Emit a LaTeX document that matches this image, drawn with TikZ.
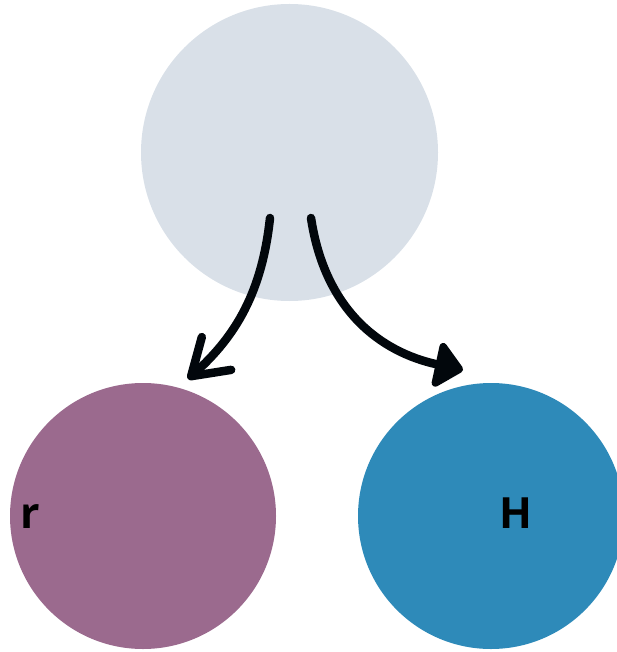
\documentclass[tikz,border=0pt]{standalone}
\usepackage{fontspec}
\setmainfont{Open Sans}
\usetikzlibrary{arrows.meta}
\definecolor{topc}{HTML}{D9E0E8}
\definecolor{leftc}{HTML}{9B6A8E}
\definecolor{rightc}{HTML}{2E8AB9}
\definecolor{arr}{HTML}{02070C}
\tikzset{
  ball/.style={circle, inner sep=0pt, draw=none},
  lbl/.style={font=\fontsize{43}{43}\selectfont\bfseries, text=black, inner sep=0pt, anchor=base},
  conn/.style={draw=arr, line width=8.5pt, line cap=round, line join=round}
}
\begin{document}
\begin{tikzpicture}[x=1pt,y=-1pt]
\useasboundingbox (0,0) rectangle (617,652);
\node[ball, fill=topc, minimum size=297pt] (top) at (289.5,152.5) {};
\node[ball, fill=leftc, minimum size=266pt] (left) at (143,516) {};
\node[ball, fill=rightc, minimum size=266pt] (right) at (491,516) {};
\node[lbl] (r) at (30,528) {r};
\node[lbl] (H) at (515.5,528) {H};
\coordinate (s1) at (270,218);
\coordinate (e1) at (188,379);
\coordinate (s2) at (311,218);
\coordinate (e2) at (463,370);
\draw[conn, -{Straight Barb[length=34pt,width=44pt,line cap=round,line join=round]}]
  (s1) .. controls (262,292) and (236,336) .. (e1);
\draw[conn, -{Triangle[length=30pt,width=52pt,line join=round]}]
  (s2) .. controls (325,310) and (380,352) .. (e2);
\end{tikzpicture}
\end{document}
